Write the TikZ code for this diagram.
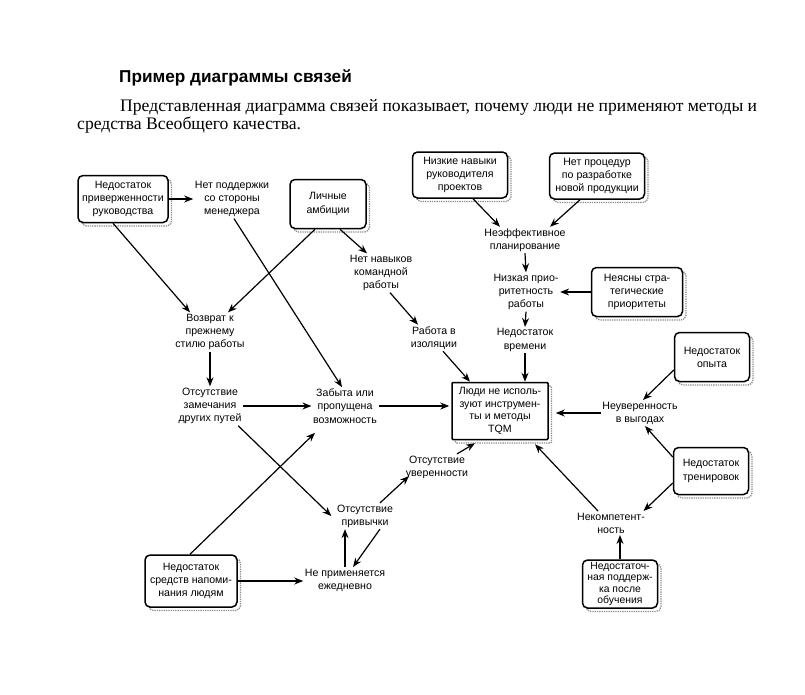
\documentclass[tikz,border=0pt]{standalone}
\usepackage{fontspec}
\setmainfont{Liberation Sans}
\newfontfamily\serifru{Liberation Serif}
\usetikzlibrary{arrows.meta,shadows}
\begin{document}
\begin{tikzpicture}[x=1pt,y=-1pt,
  lbl/.style={align=center,font=\fontsize{10.6}{13.2}\selectfont,inner sep=1.5pt},
  bx/.style={lbl,draw,line width=1.5pt,rounded corners=5pt,fill=white,
    copy shadow={shadow xshift=3.5pt,shadow yshift=-3.5pt,draw=black!45,fill=white,densely dotted,line width=1.3pt}},
  arr/.style={line width=1.2pt,-{Stealth[length=9pt,width=7pt]}}]
\useasboundingbox (0,0) rectangle (805,694);
% heading
\node[anchor=west,font=\bfseries\fontsize{17.2}{20}\selectfont,inner sep=0] (title) at (119,78) {Пример диаграммы связей};
\node[anchor=west,font=\serifru\fontsize{17.6}{20}\selectfont,inner sep=0] (p1) at (120,107) {Представленная диаграмма связей показывает, почему люди не применяют методы и};
\node[anchor=west,font=\serifru\fontsize{17.6}{20}\selectfont,inner sep=0] (p2) at (77,125) {средства Всеобщего качества.};
% nodes
\node[bx,minimum width=90,minimum height=47] (b1) at (123,199) {Недостаток\\приверженности\\руководства};
\node[lbl] (t2) at (232,199) {Нет поддержки\\со стороны\\менеджера};
\node[bx,minimum width=76,minimum height=49] (b3) at (328,204) {Личные\\амбиции};
\node[bx,minimum width=95,minimum height=46] (b4) at (460,175) {Низкие навыки\\руководителя\\проектов};
\node[bx,minimum width=95,minimum height=46] (b5) at (597,176) {Нет процедур\\по разработке\\новой продукции};
\node[lbl] (t6) at (525,240) {Неэффективное\\планирование};
\node[lbl] (t7) at (526,292) {Низкая прио-\\ритетность\\работы};
\node[bx,minimum width=91,minimum height=49] (b8) at (637,292) {Неясны стра-\\тегические\\приоритеты};
\node[lbl] (t9) at (525,340) {Недостаток\\времени};
\node[lbl] (t10) at (434,338) {Работа в\\изоляции};
\node[lbl] (t11) at (381,273) {Нет навыков\\командной\\работы};
\node[bx,minimum width=96,minimum height=57,rounded corners=1pt,inner sep=1pt,font=\fontsize{10.6}{12.6}\selectfont] (c12) at (500,411) {Люди не исполь-\\зуют инструмен-\\ты и методы\\TQM};
\node[lbl] (t13) at (210,332) {Возврат к\\прежнему\\стилю работы};
\node[lbl] (t14) at (210,406) {Отсутствие\\замечания\\других путей};
\node[lbl] (t15) at (345,406) {Забыта или\\пропущена\\возможность};
\node[bx,minimum width=75,minimum height=49] (b16) at (712,357) {Недостаток\\опыта};
\node[lbl] (t17) at (640,413) {Неуверенность\\в выгодах};
\node[bx,minimum width=75,minimum height=47] (b18) at (711,471) {Недостаток\\тренировок};
\node[lbl] (t19) at (611,523) {Некомпетент-\\ность};
\node[bx,minimum width=75,minimum height=48,inner sep=0.5pt,font=\fontsize{10.4}{11.2}\selectfont] (b20) at (620,584) {Недостаточ-\\ная поддерж-\\ка после\\обучения};
\node[lbl] (t21) at (437,467) {Отсутствие\\уверенности};
\node[lbl] (t22) at (365,516) {Отсутствие\\привычки};
\node[lbl] (t23) at (345,580) {Не применяется\\ежедневно};
\node[bx,minimum width=92,minimum height=52] (b24) at (191,581) {Недостаток\\средств напоми-\\нания людям};
% connectors
\draw[arr] (b1.east) -- (t2.west);
\draw[arr] ([xshift=-10pt]b1.south) -- ([xshift=-20pt]t13.north);
\draw[arr] ([xshift=-13pt]b3.south) -- ([xshift=18pt]t13.north);
\draw[arr] ([xshift=2pt]t2.south) -- ([xshift=-3pt]t15.north);
\draw[arr] ([xshift=12pt]b3.south) -- ([xshift=-14pt]t11.north);
\draw[arr] ([xshift=9pt]t11.south) -- ([xshift=-16pt]t10.north);
\draw[arr] ([xshift=9pt]t10.south) -- ([xshift=-30pt]c12.north);
\draw[arr] (t9.south) -- (t9.south |- c12.north);
\draw[arr] (t7.south) -- (t9.north);
\draw[arr] (t6.south) -- (t7.north);
\draw[arr] ([xshift=13pt]b4.south) -- ([xshift=-25pt]t6.north);
\draw[arr] ([xshift=-17pt]b5.south) -- ([xshift=25pt]t6.north);
\draw[arr] (b8.west) -- (t7.east);
\draw[arr] ([yshift=-13pt]b16.west) -- ([xshift=3pt]t17.north);
\draw[arr] (t17.west) -- ([xshift=7pt]c12.east |- t17.west);
\draw[arr] ([yshift=14pt]b18.west) -- ([xshift=5pt]t17.south);
\draw[arr] ([yshift=-12pt]b18.west) -- ([xshift=-3pt]t19.north east);
\draw[arr] ([xshift=-13pt]t19.north) -- ([xshift=35pt,yshift=-4pt]c12.south);
\draw[arr] (b20.north) -- (b20.north |- t19.south);
\draw[arr] (t15.east) -- ([xshift=-2pt]t15.east -| c12.west);
\draw[arr] (t14.east) -- (t14.east -| t15.west);
\draw[arr] (t13.south) -- (t14.north);
\draw[arr] ([xshift=-5pt]t14.south east) -- ([xshift=-4pt]t22.west);
\draw[arr] ([xshift=-1pt]b24.north) -- ([xshift=-30pt,yshift=-8pt]t15.south);
\draw[arr] (b24.east) -- (b24.east -| t23.west);
\draw[arr] (t23.north) -- (t23.north |- t22.south);
\draw[arr] ([xshift=15pt]t22.south) -- ([xshift=8pt]t23.north);
\draw[arr] ([xshift=15pt]t22.north) -- ([xshift=-28pt,yshift=4pt]t21.south);
\draw[arr] ([xshift=20pt]t21.north) -- ([xshift=-25pt,yshift=-3pt]c12.south);
\end{tikzpicture}
\end{document}
